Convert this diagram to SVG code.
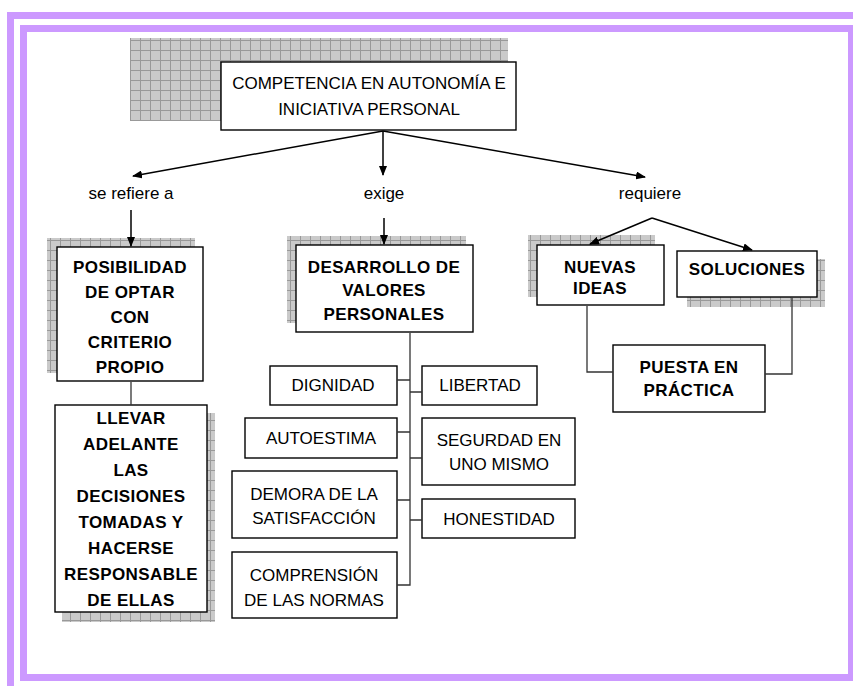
<svg xmlns="http://www.w3.org/2000/svg" width="853" height="686" viewBox="0 0 853 686">
<defs>
<pattern id="grid" width="10" height="10" patternUnits="userSpaceOnUse">
<rect width="10" height="10" fill="#cacaca"/>
<path d="M0 0.5H10M0.5 0V10" stroke="#999" stroke-width="1"/>
</pattern>
<marker id="ah" markerWidth="10" markerHeight="8" refX="9" refY="4" orient="auto" markerUnits="userSpaceOnUse">
<path d="M0 0L10 4L0 8Z" fill="#000"/>
</marker>
<style>
.box{fill:#fff;stroke:#000;stroke-width:1.4}
.sh{fill:url(#grid)}
.t{font-family:"Liberation Sans",Arial,sans-serif;font-size:17px;fill:#000;text-anchor:middle}
.b{font-family:"Liberation Sans",Arial,sans-serif;font-size:17px;font-weight:bold;letter-spacing:0.4px;fill:#000;text-anchor:middle}
.arr{stroke:#000;stroke-width:1.5;fill:none;marker-end:url(#ah)}
.ln{stroke:#333;stroke-width:1.3;fill:none}
.frame{fill:none;stroke:#cc99ff}
</style>
</defs>
<rect width="853" height="686" fill="#fff"/>
<g id="frame">
<rect class="frame" x="10.5" y="15.5" width="850" height="700" stroke-width="7"/>
<rect class="frame" x="23.5" y="28.5" width="828" height="649" stroke-width="7"/>
</g>
<g id="label-se-refiere">
<text class="t" x="131" y="199">se refiere a</text>
</g>
<g id="label-exige">
<text class="t" x="384" y="199">exige</text>
</g>
<g id="label-requiere">
<text class="t" x="650" y="199">requiere</text>
</g>
<g id="competencia">
<rect class="sh" x="130" y="38" width="378" height="83"/>
<rect class="box" x="221" y="62" width="295" height="68"/>
<text class="t" x="369" y="89">COMPETENCIA EN AUTONOMÍA E</text>
<text class="t" x="369" y="115">INICIATIVA PERSONAL</text>
</g>
<g id="posibilidad">
<rect class="sh" x="47" y="238" width="148" height="135"/>
<rect class="box" x="57" y="247" width="146" height="134"/>
<text class="b" x="130" y="273">POSIBILIDAD</text>
<text class="b" x="130" y="298">DE OPTAR</text>
<text class="b" x="130" y="323">CON</text>
<text class="b" x="130" y="348">CRITERIO</text>
<text class="b" x="130" y="373">PROPIO</text>
</g>
<g id="llevar">
<rect class="sh" x="62" y="413" width="153" height="209"/>
<rect class="box" x="55" y="405" width="152" height="207"/>
<text class="b" x="131" y="424">LLEVAR</text>
<text class="b" x="131" y="450">ADELANTE</text>
<text class="b" x="131" y="476">LAS</text>
<text class="b" x="131" y="502">DECISIONES</text>
<text class="b" x="131" y="528">TOMADAS Y</text>
<text class="b" x="131" y="554">HACERSE</text>
<text class="b" x="131" y="580">RESPONSABLE</text>
<text class="b" x="131" y="606">DE ELLAS</text>
</g>
<g id="desarrollo">
<rect class="sh" x="287" y="236" width="179" height="87"/>
<rect class="box" x="296" y="245" width="177" height="87"/>
<text class="b" x="384" y="273">DESARROLLO DE</text>
<text class="b" x="384" y="296">VALORES</text>
<text class="b" x="384" y="320">PERSONALES</text>
</g>
<g id="dignidad">
<rect class="box" x="270" y="366" width="127" height="39"/>
<text class="t" x="333" y="391">DIGNIDAD</text>
</g>
<g id="libertad">
<rect class="box" x="422" y="366" width="115" height="39"/>
<text class="t" x="480" y="391">LIBERTAD</text>
</g>
<g id="autoestima">
<rect class="box" x="245" y="418" width="152" height="40"/>
<text class="t" x="321" y="444">AUTOESTIMA</text>
</g>
<g id="seguridad">
<rect class="box" x="422" y="418" width="153" height="67"/>
<text class="t" x="499" y="446">SEGURDAD EN</text>
<text class="t" x="499" y="470">UNO MISMO</text>
</g>
<g id="demora">
<rect class="box" x="232" y="471" width="165" height="67"/>
<text class="t" x="314" y="500">DEMORA DE LA</text>
<text class="t" x="314" y="524">SATISFACCIÓN</text>
</g>
<g id="honestidad">
<rect class="box" x="422" y="499" width="153" height="39"/>
<text class="t" x="499" y="525">HONESTIDAD</text>
</g>
<g id="comprension">
<rect class="box" x="232" y="552" width="165" height="66"/>
<text class="t" x="314" y="581">COMPRENSIÓN</text>
<text class="t" x="314" y="606">DE LAS NORMAS</text>
</g>
<g id="nuevas">
<rect class="sh" x="528" y="235" width="127" height="62"/>
<rect class="box" x="537" y="245" width="127" height="60"/>
<text class="b" x="600" y="273">NUEVAS</text>
<text class="b" x="600" y="294">IDEAS</text>
</g>
<g id="soluciones">
<rect class="sh" x="687" y="259" width="138" height="48"/>
<rect class="box" x="677" y="251" width="140" height="46"/>
<text class="b" x="747" y="275">SOLUCIONES</text>
</g>
<g id="puesta">
<rect class="box" x="613" y="345" width="152" height="67"/>
<text class="b" x="689" y="373">PUESTA EN</text>
<text class="b" x="689" y="396">PRÁCTICA</text>
</g>
<g id="connectors">
<path class="arr" d="M383 131L133 176"/>
<path class="arr" d="M383 131V175"/>
<path class="arr" d="M383 131L645 177"/>
<path class="arr" d="M131 210V246"/>
<path class="arr" d="M384 218V244"/>
<path class="arr" d="M652 218L590 244"/>
<path class="arr" d="M652 218L752 250"/>
<path class="ln" d="M131 382V405"/>
<path class="ln" d="M410 333V585H397"/>
<path class="ln" d="M397 380H410M410 392H422M397 432H410M410 458H422M397 500H410M410 520H422"/>
<path class="ln" d="M587 306V372H613M792 297V374H765"/>
</g>
</svg>
